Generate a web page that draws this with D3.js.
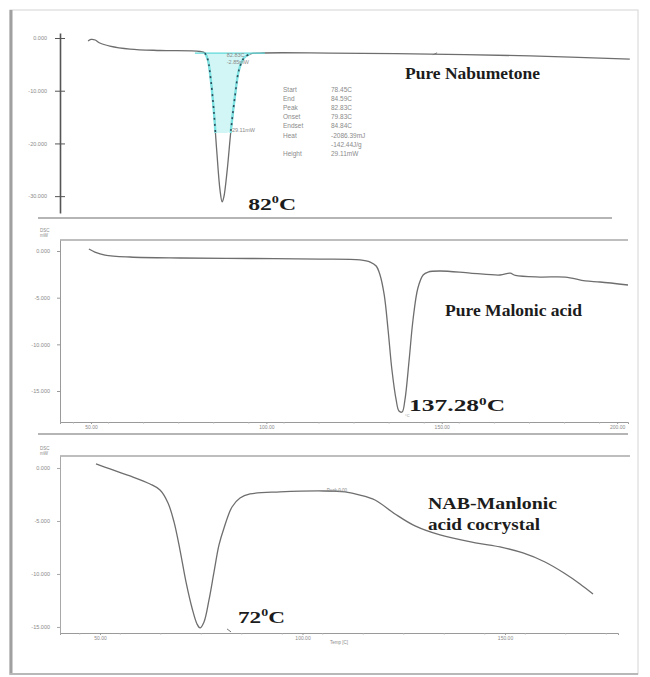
<!DOCTYPE html>
<html>
<head>
<meta charset="utf-8">
<script src="https://cdn.jsdelivr.net/npm/d3@7"></script>
<style>
  body { margin: 0; background: #fff; }
  svg { display: block; }
</style>
</head>
<body>
<script>
// --- Pure Nabumetone: temperature (°C) / heat flow (mW)
const nabTemp = [49.7, 50.4, 51.4, 52.5, 54.9, 59.7, 66.9, 76.4, 77.6, 78.3, 79.0, 79.7, 80.4, 81.2, 81.7, 82.1, 82.9, 83.8, 84.8, 85.7, 86.9, 88.3, 90.7, 107.4, 131.3, 155.2, 179.0];
const nabHeat = [-0.57, -0.28, -0.38, -0.95, -1.52, -2.09, -2.37, -2.56, -2.85, -4.18, -7.97, -13.7, -21.3, -28.9, -31.1, -30.2, -25.1, -17.5, -10.8, -6.1, -3.8, -3.04, -2.85, -2.85, -3.04, -3.4, -4.0];
const nabTicks = [0, -10, -20, -30];
const nabTickLabels = ["0.000", "-10.000", "-20.000", "-30.000"];
const nabEventNames = ["Start", "End", "Peak", "Onset", "Endset", "Heat", "", "Height"];
const nabEventValues = ["78.45C", "84.59C", "82.83C", "79.83C", "84.84C", "-2086.39mJ", "-142.44J/g", "29.11mW"];
const nabBaseline = -2.85;
const nabPeakRange = [75.2, 91.9];

// --- Pure Malonic acid
const malTemp = [49.4, 51.1, 54.0, 61.1, 75.4, 95.3, 115.3, 126.7, 129.6, 131.3, 132.4, 133.6, 134.7, 135.8, 137.0, 137.8, 138.7, 139.5, 140.7, 141.8, 143.2, 144.7, 146.1, 149.5, 158.1, 166.6, 169.5, 171.0, 178.0, 185.2, 190.9, 195.1, 203.1];
const malHeat = [0.21, -0.11, -0.43, -0.64, -0.75, -0.80, -0.86, -0.96, -1.18, -1.61, -2.57, -4.71, -8.46, -12.75, -15.96, -17.14, -17.25, -15.96, -11.68, -7.39, -3.96, -2.57, -2.25, -2.14, -2.36, -2.57, -2.38, -2.62, -2.79, -2.79, -3.21, -3.32, -3.64];
const malYTicks = [0, -5, -10, -15];
const malYTickLabels = ["0.000", "-5.000", "-10.000", "-15.000"];
const malXTicks = [50, 100, 150, 200];
const malXTickLabels = ["50.00", "100.00", "150.00", "200.00"];

// --- NAB-Malonic acid cocrystal
const cocTemp = [49.01, 52.47, 57.41, 62.35, 64.81, 66.79, 68.27, 69.75, 71.23, 72.72, 73.95, 74.69, 75.68, 76.91, 78.15, 79.38, 80.62, 82.59, 84.57, 87.04, 94.44, 105.31, 110.49, 114.2, 117.9, 122.84, 127.78, 133.95, 143.09, 148.77, 154.44, 159.88, 164.57, 168.52, 171.73];
const cocHeat = [0.38, -0.09, -0.75, -1.51, -2.08, -3.3, -5.09, -7.74, -10.75, -13.21, -14.72, -15.09, -14.53, -12.45, -9.81, -7.26, -5.66, -3.68, -2.83, -2.45, -2.26, -2.17, -2.26, -2.55, -3.02, -4.34, -5.47, -6.32, -7.08, -7.45, -8.02, -8.87, -9.91, -10.94, -11.89];
const cocYTicks = [0, -5, -10, -15];
const cocYTickLabels = ["0.000", "-5.000", "-10.000", "-15.000"];
const cocXTicks = [50, 100, 150];
const cocXTickLabels = ["50.00", "100.00", "150.00"];

const zip = (xs, ys) => xs.map((x, i) => ({ t: x, v: ys[i] }));

const svg = d3.select("body").append("svg")
  .attr("width", 650)
  .attr("height", 677);

// picture frame
svg.append("rect")
   .attr("x", 10).attr("y", 10).attr("width", 628).attr("height", 664)
   .attr("fill", "none").attr("stroke", "#d4d4d4");
svg.append("line").attr("x1", 11).attr("x2", 11).attr("y1", 10).attr("y2", 675)
   .attr("stroke", "#a0a0a0").attr("stroke-width", 3);
svg.append("line").attr("x1", 10).attr("x2", 638).attr("y1", 674).attr("y2", 674)
   .attr("stroke", "#b8b8b8").attr("stroke-width", 2);

// panel separators
[[218, 38, 612], [434, 38, 628]].forEach(([y, a, b]) => {
  svg.append("line").attr("x1", a).attr("x2", b).attr("y1", y).attr("y2", y)
     .attr("stroke", "#9c9c9c").attr("stroke-width", 1.5);
});

let tinyText = (g, x, y, txt, anchor) => {
  return g.append("text")
          .attr("x", x).attr("y", y)
          .attr("font-family", "Liberation Sans, Arial, sans-serif")
          .attr("font-size", 5.5)
          .attr("fill", "#8a8a8a")
          .attr("text-anchor", anchor || "start")
          .text(txt);
};

// bold serif labels; the source image is stretched sideways, so force the width
let bigLabel = (x, y, parts, size, width) => {
  let t = svg.append("text")
             .attr("x", x).attr("y", y)
             .attr("font-family", "Liberation Serif, Times New Roman, serif")
             .attr("font-weight", "bold")
             .attr("font-size", size)
             .attr("fill", "#1c1c1c")
             .attr("textLength", width)
             .attr("lengthAdjust", "spacingAndGlyphs");
  parts.forEach((p) => {
    let ts = t.append("tspan").text(p.text);
    if (p.sup) { ts.attr("font-size", size * 0.6).attr("dy", -size * 0.38); }
    if (p.after) { ts.attr("dy", size * 0.38); }
  });
  return t;
};

let styleYAxis = (g, color, crossing) => {
  g.select(".domain").attr("stroke", color).attr("stroke-width", crossing ? 1.6 : 1);
  g.selectAll(".tick line").attr("stroke", color)
   .attr("x1", crossing ? -5 : -3).attr("x2", crossing ? 5 : 0);
  g.selectAll(".tick text")
   .attr("font-family", "Liberation Sans, Arial, sans-serif")
   .attr("font-size", 5.5).attr("fill", "#8a8a8a");
};

let curveLine = (x, y) => d3.line().x((d) => x(d.t)).y((d) => y(d.v)).curve(d3.curveCatmullRom.alpha(0.5));

// ================= Panel 1: Pure Nabumetone =================
(function () {
  const x = d3.scaleLinear().domain([43, 180]).range([60, 634]);
  const y = d3.scaleLinear().domain([0.95, -33.2]).range([33, 213]);
  const data = zip(nabTemp, nabHeat);
  const g = svg.append("g");

  const yAxis = d3.axisLeft(y).tickValues(nabTicks)
                  .tickFormat((d, i) => nabTickLabels[i]).tickSizeOuter(0).tickPadding(7);
  const ga = g.append("g").attr("transform", `translate(${x.range()[0]},0)`).call(yAxis);
  styleYAxis(ga, "#555", true);

  // integration region (cyan)
  const cutoff = -18;
  const clipId = "nabClip";
  g.append("clipPath").attr("id", clipId).append("rect")
   .attr("x", x(nabPeakRange[0])).attr("width", x(nabPeakRange[1]) - x(nabPeakRange[0]))
   .attr("y", y(nabBaseline) - 2).attr("height", y(cutoff) - y(nabBaseline) + 2);

  const peakData = data.filter((d) => d.t >= 77 && d.t <= 89);
  g.append("path")
   .datum(peakData)
   .attr("clip-path", `url(#${clipId})`)
   .attr("fill", "#d2f6f6")
   .attr("d", d3.area().x((d) => x(d.t)).y0(y(nabBaseline))
               .y1((d) => y(Math.max(d.v, cutoff))).curve(d3.curveCatmullRom.alpha(0.5)));

  g.append("path").datum(data).attr("fill", "none")
   .attr("stroke", "#6e6e6e").attr("stroke-width", 1.3)
   .attr("d", curveLine(x, y));

  g.append("line")
   .attr("x1", x(nabPeakRange[0])).attr("x2", x(nabPeakRange[1]))
   .attr("y1", y(nabBaseline)).attr("y2", y(nabBaseline))
   .attr("stroke", "#5fdada").attr("stroke-width", 1.2);

  g.append("path").datum(peakData).attr("fill", "none")
   .attr("clip-path", `url(#${clipId})`)
   .attr("stroke", "#7fe3e3").attr("stroke-width", 2.4)
   .attr("d", curveLine(x, y));
  g.append("path").datum(peakData).attr("fill", "none")
   .attr("clip-path", `url(#${clipId})`)
   .attr("stroke", "#2c4c5a").attr("stroke-width", 1.6)
   .attr("stroke-dasharray", "2,4")
   .attr("d", curveLine(x, y));

  tinyText(g, x(82.8), y(nabBaseline) + 4, "82.83C");
  tinyText(g, x(82.8), y(nabBaseline) + 11, "-2.85mW");
  tinyText(g, x(83.6), y(cutoff) - 1, "-29.11mW");

  nabEventNames.forEach((name, i) => {
    tinyText(g, 283, 92 + i * 9.1, name).attr("font-size", 6.5);
    tinyText(g, 331, 92 + i * 9.1, nabEventValues[i]).attr("font-size", 6.5);
  });

  // small marker on the baseline
  g.append("line").attr("x1", x(132)).attr("x2", x(133))
   .attr("y1", y(-3.0) + 1).attr("y2", y(-3.0) - 1).attr("stroke", "#777");

  const peak = data.reduce((a, b) => (b.v < a.v ? b : a));
  bigLabel(x(peak.t) + 26, y(peak.v) + 8, [{ text: "82" }, { text: "0", sup: true }, { text: "C", after: true }], 17, 48);
  bigLabel(405, 79, [{ text: "Pure Nabumetone" }], 17, 135);
})();

// ================= Panel 2: Pure Malonic acid =================
(function () {
  const x = d3.scaleLinear().domain([41.16, 203.1]).range([60, 628]);
  const y = d3.scaleLinear().domain([1.18, -18.32]).range([240, 422]);
  const data = zip(malTemp, malHeat);
  const g = svg.append("g");

  g.append("line").attr("x1", x.range()[0]).attr("x2", x.range()[1])
   .attr("y1", y.range()[0]).attr("y2", y.range()[0])
   .attr("stroke", "#a8a8a8").attr("stroke-width", 1.4);

  const yAxis = d3.axisLeft(y).tickValues(malYTicks)
                  .tickFormat((d, i) => malYTickLabels[i]).tickSizeOuter(0).tickPadding(4);
  const ga = g.append("g").attr("transform", `translate(${x.range()[0]},0)`).call(yAxis);
  styleYAxis(ga, "#9a9a9a", false);

  const xAxis = d3.axisBottom(x).tickValues(malXTicks)
                  .tickFormat((d, i) => malXTickLabels[i]).tickSizeOuter(0).tickSize(2).tickPadding(1);
  const gx = g.append("g").attr("transform", `translate(0,${y.range()[1]})`).call(xAxis);
  gx.select(".domain").attr("stroke", "#9a9a9a");
  gx.selectAll(".tick line").attr("stroke", "#9a9a9a");
  gx.selectAll(".tick text").attr("font-family", "Liberation Sans, Arial, sans-serif")
    .attr("font-size", 5).attr("fill", "#8a8a8a");
  g.append("g").attr("transform", `translate(0,${y.range()[1]})`)
   .selectAll("line").data(d3.range(45, 201, 10)).enter().append("line")
   .attr("x1", (d) => x(d)).attr("x2", (d) => x(d)).attr("y1", 0).attr("y2", 1.5)
   .attr("stroke", "#b0b0b0");

  tinyText(g, 40, 232, "DSC").attr("font-size", 4.5);
  tinyText(g, 40, 237, "mW").attr("font-size", 4.5);

  g.append("path").datum(data).attr("fill", "none")
   .attr("stroke", "#6e6e6e").attr("stroke-width", 1.3)
   .attr("d", curveLine(x, y));

  const peak = data.reduce((a, b) => (b.v < a.v ? b : a));
  tinyText(g, x(peak.t) + 3, y(peak.v) + 5, "°C").attr("font-size", 4);
  bigLabel(x(peak.t) + 7, y(peak.v) - 1, [{ text: "137.28" }, { text: "0", sup: true }, { text: "C", after: true }], 17, 96);
  bigLabel(445, 316, [{ text: "Pure Malonic acid" }], 16, 137);
})();

// ================= Panel 3: NAB-Malonic acid cocrystal =================
(function () {
  const x = d3.scaleLinear().domain([40.12, 177.9]).range([60, 618]);
  const y = d3.scaleLinear().domain([1.13, -15.57]).range([456, 633]);
  const data = zip(cocTemp, cocHeat);
  const g = svg.append("g");

  g.append("line").attr("x1", 60).attr("x2", 630)
   .attr("y1", y.range()[0]).attr("y2", y.range()[0])
   .attr("stroke", "#a8a8a8").attr("stroke-width", 1.4);

  const yAxis = d3.axisLeft(y).tickValues(cocYTicks)
                  .tickFormat((d, i) => cocYTickLabels[i]).tickSizeOuter(0).tickPadding(4);
  const ga = g.append("g").attr("transform", `translate(${x.range()[0]},0)`).call(yAxis);
  styleYAxis(ga, "#a8a8a8", false);

  const xAxis = d3.axisBottom(x).tickValues(cocXTicks)
                  .tickFormat((d, i) => cocXTickLabels[i]).tickSizeOuter(0).tickSize(2).tickPadding(1);
  const gx = g.append("g").attr("transform", `translate(0,${y.range()[1]})`).call(xAxis);
  gx.select(".domain").attr("stroke", "#9a9a9a");
  gx.selectAll(".tick line").attr("stroke", "#9a9a9a");
  gx.selectAll(".tick text").attr("font-family", "Liberation Sans, Arial, sans-serif")
    .attr("font-size", 5).attr("fill", "#8a8a8a");
  g.append("g").attr("transform", `translate(0,${y.range()[1]})`)
   .selectAll("line").data(d3.range(45, 176, 10)).enter().append("line")
   .attr("x1", (d) => x(d)).attr("x2", (d) => x(d)).attr("y1", 0).attr("y2", 1.5)
   .attr("stroke", "#b0b0b0");
  tinyText(g, (x.range()[0] + x.range()[1]) / 2, y.range()[1] + 11, "Temp [C]", "middle").attr("font-size", 4.5);

  tinyText(g, 40, 450, "DSC").attr("font-size", 4.5);
  tinyText(g, 40, 455, "mW").attr("font-size", 4.5);

  g.append("path").datum(data).attr("fill", "none")
   .attr("stroke", "#6e6e6e").attr("stroke-width", 1.3)
   .attr("d", curveLine(x, y));

  tinyText(g, x(106), y(-2.17) + 1, "Peak 0.00").attr("font-size", 4.5);

  const peak = data.reduce((a, b) => (b.v < a.v ? b : a));
  g.append("line").attr("x1", x(peak.t) + 27).attr("x2", x(peak.t) + 31)
   .attr("y1", y(peak.v) + 1).attr("y2", y(peak.v) + 4).attr("stroke", "#777");
  bigLabel(x(peak.t) + 38, y(peak.v) - 5, [{ text: "72" }, { text: "0", sup: true }, { text: "C", after: true }], 17, 47);
  bigLabel(428, 509, [{ text: "NAB-Manlonic" }], 17, 129);
  bigLabel(428, 530, [{ text: "acid cocrystal" }], 17, 112);
})();
</script>
</body>
</html>
